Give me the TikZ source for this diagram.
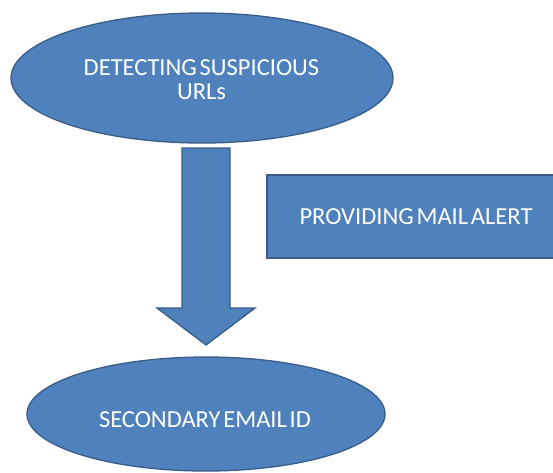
\documentclass[tikz,border=0pt]{standalone}
\usepackage{fontspec}
\setmainfont{Carlito}
\usetikzlibrary{shapes.geometric}
\definecolor{boxblue}{HTML}{4F81BD}
\definecolor{boxedge}{HTML}{385D8A}
\newcommand{\labelfont}{\fontsize{24.5}{24}\selectfont\spaceskip=2.8pt plus 1pt minus 1pt\relax}
\tikzset{
  blueshape/.style={fill=boxblue, draw=boxedge, line width=1.3pt},
  stage/.style={blueshape, ellipse, inner sep=0pt},
  alertbox/.style={blueshape, rectangle, inner sep=0pt},
  caption/.style={text=white, font=\labelfont, align=center, inner sep=0pt}
}
\begin{document}
\begin{tikzpicture}[x=1pt,y=-1pt]
\clip (0,0) rectangle (553,472);
\fill[white] (0,0) rectangle (553,472);

% stages
\node[stage, minimum width=382pt, minimum height=130pt] (detect) at (202,78) {};
\node[caption] (detecttext) at (201.5,80) {DETECTING SUSPICIOUS\\URLs};
\node[stage, minimum width=358pt, minimum height=114pt] (secondary) at (206,414) {};
\node[caption] (secondarytext) at (205,420) {SECONDARY EMAIL ID};

% side box, running off the right edge
\node[alertbox, minimum width=293pt, minimum height=83pt] (alert) at (413.5,216.5) {};
\node[caption] (alerttext) at (416,217) {PROVIDING MAIL ALERT};

% block arrow from the first stage down to the second
\coordinate (atop) at (206,148);
\coordinate (atip) at (206,345);
\filldraw[blueshape, line join=miter]
  ([xshift=-24pt]atop) -- ([xshift=24pt]atop) -- ([xshift=24pt]atop |- 0,308)
  -- ([xshift=49pt]atop |- 0,308) -- (atip) -- ([xshift=-49pt]atop |- 0,308)
  -- ([xshift=-24pt]atop |- 0,308) -- cycle;
\end{tikzpicture}
\end{document}
